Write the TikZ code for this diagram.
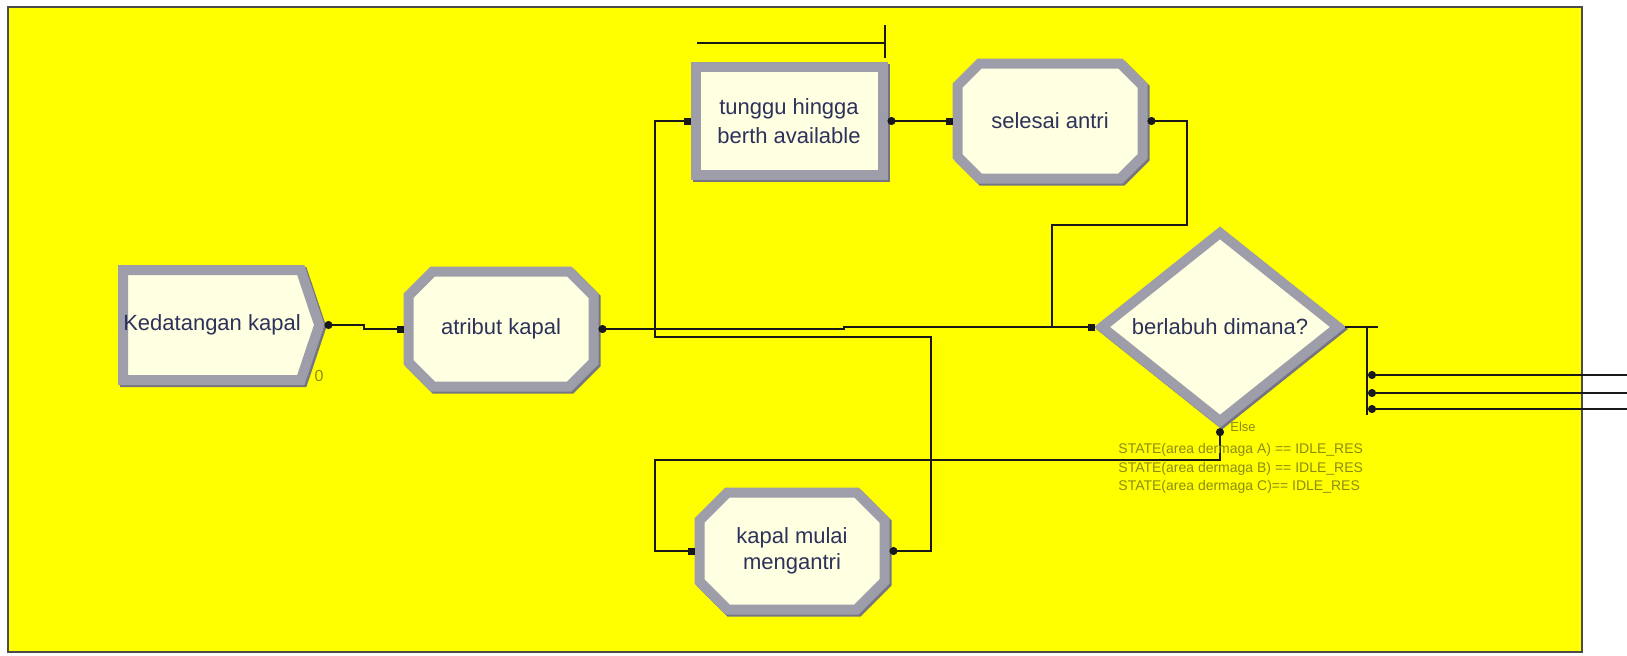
\documentclass[tikz,border=0pt]{standalone}
\usepackage{fontspec}
\setmainfont{Liberation Sans}
\usetikzlibrary{shapes.misc,shapes.geometric,shapes.symbols,arrows.meta}

\definecolor{bgyellow}{RGB}{255,255,0}
\definecolor{cream}{RGB}{255,255,226}
\definecolor{bevel}{RGB}{158,158,170}
\definecolor{beveldark}{RGB}{118,118,130}
\definecolor{modtext}{RGB}{45,50,90}
\definecolor{olive}{RGB}{140,140,20}
\definecolor{wirecol}{RGB}{25,25,25}

\tikzset{
  module/.style={draw=bevel, fill=cream, line width=5pt, text=modtext,
    font=\fontsize{11}{13}\selectfont, align=center, inner sep=0pt,
    preaction={draw=beveldark, line width=5pt, transform canvas={shift={(1pt,-1pt)}}}},
  process/.style={module, chamfered rectangle, chamfered rectangle xsep=7pt,
    chamfered rectangle ysep=7pt, minimum width=92.5pt, minimum height=57.5pt},
  hold/.style={module, rectangle, minimum width=93.5pt, minimum height=54pt},
  create/.style={module, signal, signal to=east, signal pointer angle=143,
    minimum width=98pt, minimum height=55pt},
  decide/.style={module, diamond, minimum width=120pt, minimum height=84pt},
  wire/.style={draw=wirecol, line width=1pt,
    arrows={Circle[length=4pt]-Square[length=3.5pt]}},
  small/.style={text=olive, inner sep=0pt},
  cond/.style={small, anchor=west, font=\fontsize{7}{8}\selectfont},
}

\begin{document}
\begin{tikzpicture}[x=0.5pt, y=-0.5pt]
  \useasboundingbox (0,0) rectangle (1627,655);
  \draw[fill=bgyellow, draw=black!70, line width=1pt] (8,7) rectangle (1582,652);

  % modules
  \node[create]  (ked) at (212,325) {Kedatangan kapal};
  \node[process] (atr) at (501,329) {atribut kapal};
  \node[hold, font=\fontsize{11}{14.5}\selectfont] (tun) at (789,121) {tunggu hingga\\berth available};
  \node[process] (sel) at (1050,121) {selesai antri};
  \node[decide]  (dia) at (1220,327) {berlabuh dimana?};
  \node[process, minimum height=58.5pt] (kap) at (792,551) {kapal mulai\\mengantri};

  \node[small, font=\fontsize{8}{8}\selectfont] (ked0) at (319,376) {0};
  \node[small, anchor=west, font=\fontsize{6.5}{7}\selectfont] (else) at (1230,427) {Else};

  % queue
  \draw[wire, arrows=-] (697,43) -- (885,43);
  \draw[wire, arrows=-] (885,25) -- (885,58);

  % connectors
  \coordinate (join) at (1052,0 |- dia.west);
  \draw[wire] (ked.east) -- ++(40,0) |- (atr.west);
  \draw[wire] (atr.east) -- ++(245,0) |- (dia.west);
  \draw[wire] (tun.east) -- (sel.west);
  \draw[wire, arrows={Circle[length=4pt]-}] (sel.east) -| (1187,225) -| (join);
  \draw[wire] (dia.south) |- (655,460) |- (kap.west);
  \draw[wire] (kap.east) -| (931,337) -- (655,337) |- (tun.west);

  % exits
  \draw[wire, arrows=-] (dia.east) -- ++(33,0);
  \draw[wire, arrows=-] (1367,0 |- dia.east) -- (1367,415);
  \foreach \y [count=\i] in {375,393,409}
    \draw[wire, arrows={Circle[length=4pt]-}] (1368,\y) coordinate (out\i) -- (1627,\y);

  % conditions
  \node[cond] (stA) at (1118,450) {STATE(area dermaga A) == IDLE\_RES};
  \node[cond] (stB) at (1118,469) {STATE(area dermaga B) == IDLE\_RES};
  \node[cond] (stC) at (1118,487) {STATE(area dermaga C)== IDLE\_RES};
\end{tikzpicture}
\end{document}
